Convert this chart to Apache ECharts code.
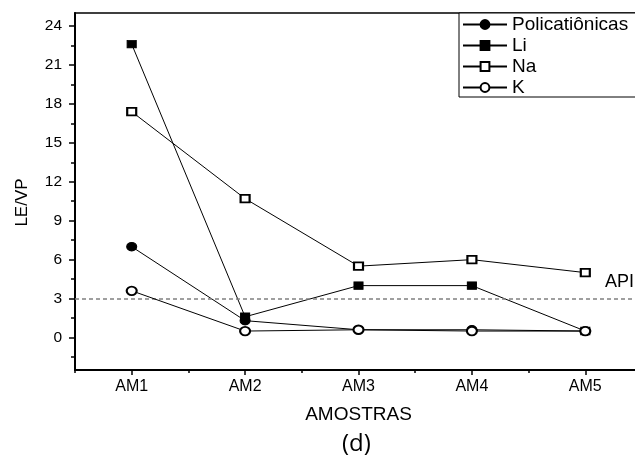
<!DOCTYPE html>
<html>
<head>
<meta charset="utf-8">
<script src="https://cdn.jsdelivr.net/npm/echarts@6/dist/echarts.min.js"></script>
<style>
  html, body { margin: 0; padding: 0; background: #fff; }
  #chart { width: 635px; height: 469px; }
</style>
</head>
<body>
<div id="chart"></div>
<script>
// Samples and LE/VP ratios per cation group
const categories = ['AM1', 'AM2', 'AM3', 'AM4', 'AM5'];
const policationicas = [7.0, 1.3, 0.6, 0.6, 0.5];
const li = [22.6, 1.6, 4.0, 4.0, 0.5];
const na = [17.4, 10.7, 5.5, 6.0, 5.0];
const k = [3.6, 0.5, 0.6, 0.5, 0.5];
const apiLimit = 3;

// Axis tick positions
const xTicks = [1, 2, 3, 4, 5];
const xMinorTicks = [0.5, 1.5, 2.5, 3.5, 4.5];
const yTicks = [0, 3, 6, 9, 12, 15, 18, 21, 24];
const yMinorTicks = [-1.5, 1.5, 4.5, 7.5, 10.5, 13.5, 16.5, 19.5, 22.5];

const FONT = 'Liberation Sans';
const pairs = vals => vals.map((v, i) => [i + 1, v]);

function lineSeries(name, vals, symbol, size, z) {
  return {
    name: name,
    type: 'line',
    data: pairs(vals),
    symbol: symbol,
    symbolSize: size,
    z: z,
    lineStyle: { color: '#000', width: 1 },
    itemStyle: { color: '#000', borderColor: '#000', borderWidth: 1 },
    emphasis: { disabled: true }
  };
}

const series = [
  lineSeries('Policatiônicas', policationicas, 'circle', [10, 8.5], 2),
  lineSeries('Li', li, 'rect', [9, 7.5], 3),
  lineSeries('Na', na, 'emptyRect', [9, 7.5], 4),
  lineSeries('K', k, 'emptyCircle', [10, 8.5], 5)
];

series[3].markLine = {
  silent: true,
  symbol: ['none', 'none'],
  lineStyle: { color: '#808080', type: [4, 3], width: 1.5 },
  label: {
    show: true,
    formatter: 'API',
    position: 'insideEndTop',
    distance: [8, 8],
    color: '#000',
    fontFamily: FONT,
    fontSize: 18
  },
  data: [[{ coord: [0.5, apiLimit] }, { coord: [5.5, apiLimit] }]]
};

const chart = echarts.init(document.getElementById('chart'), null, { renderer: 'canvas' });

chart.setOption({
  animation: false,
  backgroundColor: '#fff',
  textStyle: { fontFamily: FONT, color: '#000' },
  grid: {
    left: 75, right: -7, top: 13, bottom: 99,
    outerBoundsMode: 'none',
    containLabel: false,
    show: true, borderColor: '#000', borderWidth: 1.5, backgroundColor: 'transparent'
  },
  legend: {
    orient: 'vertical',
    left: 459,
    top: 13,
    padding: [2, 16, 0, 3],
    itemGap: 2,
    itemWidth: 44,
    itemHeight: 11,
    borderColor: '#000',
    borderWidth: 1,
    backgroundColor: '#fff',
    selectedMode: false,
    textStyle: { fontFamily: FONT, fontSize: 19, color: '#000' },
    data: ['Policatiônicas', 'Li', 'Na', 'K']
  },
  xAxis: [
    {
      type: 'value',
      min: 0.5, max: 5.5,
      position: 'bottom',
      axisLine: { show: true, onZero: false, lineStyle: { color: '#000', width: 2 } },
      axisTick: { show: true, length: 5, customValues: xTicks, lineStyle: { color: '#000', width: 1.5 } },
      axisLabel: {
        customValues: xTicks,
        formatter: v => categories[Math.round(v) - 1],
        color: '#000', fontFamily: FONT, fontSize: 16, margin: 9
      },
      splitLine: { show: false },
      name: 'AMOSTRAS',
      nameLocation: 'middle',
      nameGap: 35,
      nameTextStyle: { fontFamily: FONT, fontSize: 19, color: '#000' }
    },
    {
      type: 'value',
      min: 0.5, max: 5.5,
      position: 'bottom',
      axisLine: { show: false, onZero: false },
      axisTick: { show: true, length: 3, customValues: xMinorTicks, lineStyle: { color: '#000', width: 1.5 } },
      axisLabel: { show: false },
      splitLine: { show: false }
    }
  ],
  yAxis: [
    {
      type: 'value',
      min: -2.5, max: 25,
      position: 'left',
      axisLine: { show: true, onZero: false, lineStyle: { color: '#000', width: 2 } },
      axisTick: { show: true, length: 6, customValues: yTicks, lineStyle: { color: '#000', width: 1.5 } },
      axisLabel: { customValues: yTicks, color: '#000', fontFamily: FONT, fontSize: 15.5, margin: 13 },
      splitLine: { show: false },
      name: 'LE/VP',
      nameLocation: 'middle',
      nameGap: 44,
      nameTextStyle: { fontFamily: FONT, fontSize: 17, color: '#000', padding: [0, 22, 0, 0] }
    },
    {
      type: 'value',
      min: -2.5, max: 25,
      position: 'left',
      axisLine: { show: false, onZero: false },
      axisTick: { show: true, length: 4, customValues: yMinorTicks, lineStyle: { color: '#000', width: 1.5 } },
      axisLabel: { show: false },
      splitLine: { show: false }
    }
  ],
  graphic: [
    {
      type: 'text',
      left: 342,
      top: 432,
      style: { text: '(d)', font: '24px "Open Sans"', fill: '#000' }
    }
  ],
  series: series
});
</script>
</body>
</html>
